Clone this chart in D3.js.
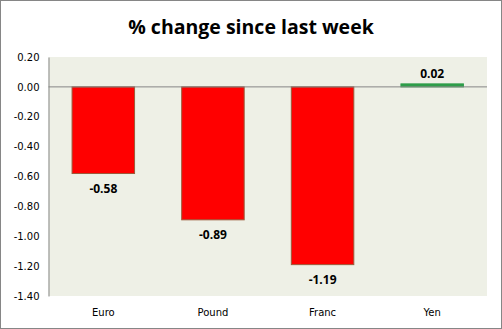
<!DOCTYPE html>
<html><head><meta charset="utf-8">
<script src="https://cdn.jsdelivr.net/npm/d3@7"></script>
<style>body{margin:0;background:#fff}svg{display:block}</style>
</head><body>
<script>
const categories = ["Euro","Pound","Franc","Yen"];
const values = [-0.58,-0.89,-1.19,0.02];
const tickValues = [0.2,0,-0.2,-0.4,-0.6,-0.8,-1.0,-1.2,-1.4];
const title = "% change since last week";

const W=502,H=329;
const svg=d3.select("body").append("svg").attr("width",W).attr("height",H);
svg.append("rect").attr("x",0.5).attr("y",0.5).attr("width",W-1).attr("height",H-1)
  .attr("fill","#fff").attr("stroke","#868686");
const m={l:48.5,r:487,t:57,b:296};
const x=d3.scaleBand().domain(categories).range([m.l,m.r]).paddingInner(0.43).paddingOuter(0.215);
const y=d3.scaleLinear().domain([-1.4,0.2]).range([m.b,m.t]);
svg.append("rect").attr("x",m.l).attr("y",m.t).attr("width",m.r-m.l).attr("height",m.b-m.t).attr("fill","#EEF0E6");
svg.append("text").attr("x",251).attr("y",34).attr("text-anchor","middle")
  .attr("font-family","Open Sans").attr("font-weight","bold").attr("font-size",19.5).attr("fill","#000").text(title);
const yAxis=svg.append("g").attr("transform",`translate(${m.l},0)`)
  .call(d3.axisLeft(y).tickValues(tickValues).tickFormat(d3.format(".2f")).tickSize(0).tickPadding(9));
yAxis.select(".domain").attr("stroke","#868686");
yAxis.selectAll("text").attr("font-family","DejaVu Sans").attr("font-size",10).attr("fill","#000")
  .text(d=>d3.format(".2f")(d).replace("−","-"));
svg.selectAll(".bar").data(values).join("rect").attr("class","bar")
  .attr("x",(d,i)=>x(categories[i])).attr("width",x.bandwidth())
  .attr("y",d=>y(Math.max(0,d))).attr("height",d=>Math.abs(y(d)-y(0)))
  .attr("fill",d=>d<0?"#FF0000":"#2E9E4A")
  .attr("stroke",d=>d<0?"#9B5A3A":"#2E9E4A").attr("stroke-width",1);
svg.append("line").attr("x1",m.l).attr("x2",m.r).attr("y1",y(0)).attr("y2",y(0)).attr("stroke","#868686");
svg.selectAll(".lbl").data(values).join("text").attr("class","lbl")
  .attr("x",(d,i)=>x(categories[i])+x.bandwidth()/2)
  .attr("y",d=>d<0?y(d)+19:y(d)-6).attr("text-anchor","middle")
  .attr("font-family","Open Sans").attr("font-weight","bold").attr("font-size",12).attr("fill","#000")
  .text(d=>d3.format(".2f")(d).replace("−","-"));
const xAxis=svg.append("g").attr("transform",`translate(0,${m.b})`)
  .call(d3.axisBottom(x).tickSize(0).tickPadding(13));
xAxis.select(".domain").remove();
xAxis.selectAll("text").attr("font-family","DejaVu Sans").attr("font-size",10).attr("fill","#000");
</script>
</body></html>
